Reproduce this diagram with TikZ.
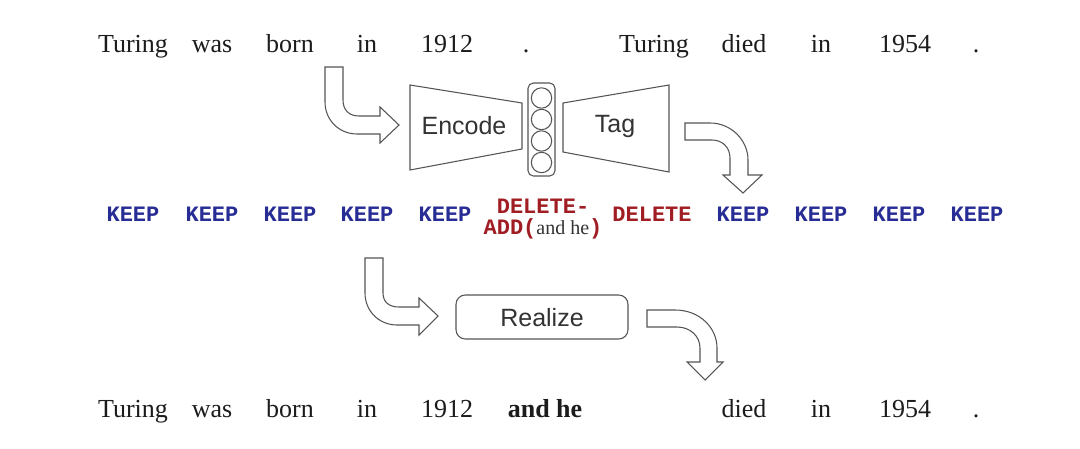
\documentclass[tikz,border=0pt]{standalone}
\usepackage{fontspec}
\setmainfont{Liberation Serif}
\newfontfamily\sansf{Liberation Sans}
\newfontfamily\monof{Liberation Mono}
\definecolor{txt}{HTML}{1C1C1C}
\definecolor{stxt}{HTML}{333333}
\definecolor{keepc}{RGB}{40,45,150}
\definecolor{delc}{RGB}{160,30,35}
\definecolor{lc}{HTML}{555555}
\begin{document}
\begin{tikzpicture}[x=0.75pt,y=-0.75pt,
  word/.style={anchor=base,inner sep=0pt,font=\fontsize{19.5}{22}\selectfont,text=txt},
  keeptag/.style={anchor=base,inner sep=0pt,font=\monof\bfseries\fontsize{16.5}{18}\selectfont,text=keepc},
  deltag/.style={anchor=base,inner sep=0pt,font=\monof\bfseries\fontsize{16.5}{18}\selectfont,text=delc},
  label/.style={inner sep=0pt,font=\sansf\fontsize{18.75}{20}\selectfont,text=stxt},
  shp/.style={draw=lc,fill=white,line width=0.8pt,line join=miter},
  barrow/.style={draw=lc,fill=white,line width=0.8pt,line join=miter}]
\useasboundingbox[fill=white] (0,0) rectangle (1080,449);

% top sentence
\node[word] (w1) at (133,53) {Turing};
\node[word] (w2) at (212,53) {was};
\node[word] (w3) at (290,53) {born};
\node[word] (w4) at (367,53) {in};
\node[word] (w5) at (447,53) {1912};
\node[word] (w6) at (526,53) {.};
\node[word] (w7) at (654,53) {Turing};
\node[word] (w8) at (744,53) {died};
\node[word] (w9) at (821,53) {in};
\node[word] (w10) at (905,53) {1954};
\node[word] (w11) at (976,53) {.};

% encoder / decoder
\draw[shp] (410,85) -- (522,103) -- (522,149) -- (410,170) -- cycle;
\draw[shp] (563,103) -- (669,85) -- (669,172) -- (563,152) -- cycle;
\draw[shp,rounded corners=4] (528,83) rectangle (555,176);
\foreach \cy in {98,119.5,141,162.5} \draw[lc,line width=0.8pt] (541.5,\cy) circle[radius=10.2];
\node[label] (enc) at (464,126) {Encode};
\node[label] (tag) at (615,126) {Tag};

% bent arrow 1
\draw[barrow] (325,67) -- (343,67) -- (343,100) .. controls (343,110) and (349,116) .. (359,116)
  -- (380,116) -- (380,107) -- (399,125) -- (380,143) -- (380,134) -- (357,134)
  .. controls (339,134) and (325,120) .. (325,102) -- cycle;
% bent arrow 2
\draw[barrow] (685,123) -- (710,123) .. controls (731,123) and (748,140) .. (748,160)
  -- (748,175) -- (762,175) -- (743,193) -- (723,175) -- (730,175) -- (730,158)
  .. controls (730,147) and (722,140) .. (712,140) -- (685,140) -- cycle;

% tags
\node[keeptag] (t1) at (133,221) {KEEP};
\node[keeptag] (t2) at (212,221) {KEEP};
\node[keeptag] (t3) at (290,221) {KEEP};
\node[keeptag] (t4) at (367,221) {KEEP};
\node[keeptag] (t5) at (445,221) {KEEP};
\node[deltag] (t6a) at (543,213) {DELETE-};
\node[deltag] (t6b) at (543,234) {ADD(\rmfamily\mdseries\color{stxt}\fontsize{15}{16}\selectfont and he\monof\bfseries\fontsize{16.5}{18}\selectfont\color{delc})};
\node[deltag] (t7) at (652,221) {DELETE};
\node[keeptag] (t8) at (743,221) {KEEP};
\node[keeptag] (t9) at (821,221) {KEEP};
\node[keeptag] (t10) at (899,221) {KEEP};
\node[keeptag] (t11) at (977,221) {KEEP};

% realize
\draw[shp,rounded corners=7] (456,295) rectangle (628,339);
\node[label] (real) at (542,318) {Realize};

% bent arrow 3
\draw[barrow] (365,258) -- (383,258) -- (383,293) .. controls (383,302) and (389,307) .. (399,307)
  -- (419,307) -- (419,298) -- (438,316) -- (419,335) -- (419,325) -- (397,325)
  .. controls (379,325) and (365,311) .. (365,293) -- cycle;
% bent arrow 4
\draw[barrow] (647,310) -- (675,310) .. controls (700,310) and (717,328) .. (717,348)
  -- (717,362) -- (723,362) -- (705,380) -- (687,362) -- (700,362) -- (700,348)
  .. controls (700,336) and (690,327) .. (677,327) -- (647,327) -- cycle;

% output sentence
\node[word] (o1) at (133,417) {Turing};
\node[word] (o2) at (212,417) {was};
\node[word] (o3) at (290,417) {born};
\node[word] (o4) at (367,417) {in};
\node[word] (o5) at (447,417) {1912};
\node[word,font=\bfseries\fontsize{19.5}{22}\selectfont] (o6) at (545,417) {and he};
\node[word] (o7) at (744,417) {died};
\node[word] (o8) at (821,417) {in};
\node[word] (o9) at (905,417) {1954};
\node[word] (o10) at (976,417) {.};
\end{tikzpicture}
\end{document}
